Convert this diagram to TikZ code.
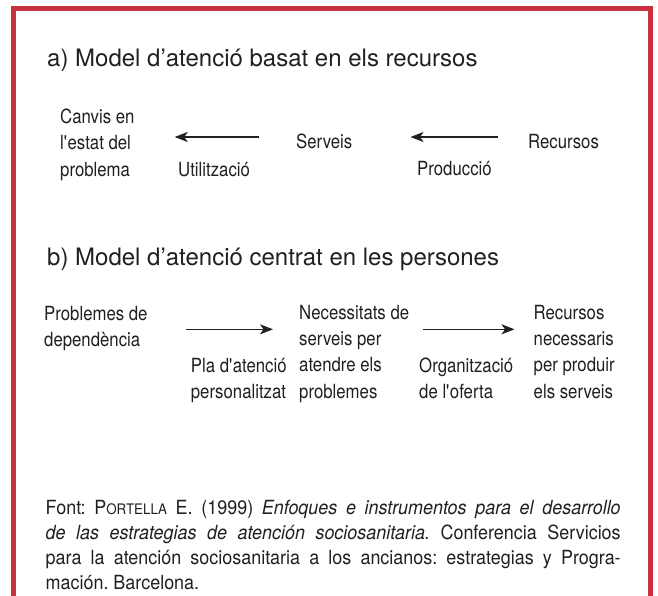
\documentclass[tikz,border=0pt]{standalone}
\usepackage{fontspec}
\setmainfont{TeX Gyre Heros}
\newfontfamily\labelfont[FakeStretch=0.86]{TeX Gyre Heros}
\newfontfamily\notefont[FakeStretch=0.92]{TeX Gyre Heros}
\usepackage{xcolor}
\usetikzlibrary{positioning, calc, arrows.meta}
\definecolor{marcvermell}{RGB}{200,50,62}
\definecolor{tinta}{RGB}{35,31,32}
\tikzset{
  titol/.style={anchor=base west, inner sep=0pt, text=tinta,
    font=\fontsize{24}{29}\selectfont},
  % ancorat a la base de l'ultima linia
  etiqueta/.style={anchor=base west, inner sep=0pt, align=left, text=tinta,
    font=\labelfont\fontsize{19.5}{26.2}\selectfont},
  nota/.style={anchor=base west, inner sep=0pt, text width=575pt, align=justify,
    text=tinta, font=\notefont\fontsize{19.5}{25}\selectfont\frenchspacing},
  % fletxes entre estats
  flux/.style={-{Stealth[length=13pt,width=10pt,inset=3.5pt]}, line width=1.3pt, draw=tinta},
  marc/.style={draw=marcvermell, line width=5pt}
}
\newcommand{\q}{\textquotesingle}

\begin{document}
\begin{tikzpicture}[x=1pt, y=-1pt]
\useasboundingbox (0,0) rectangle (658,595);
\fill[white] (0,0) rectangle (658,595);

% Marc vermell (obert per baix)
\draw[marc] (13.5,597) -- (13.5,8.5) -- (650.5,8.5) -- (650.5,597);

% a) Model basat en els recursos
\node[titol] (titola) at (47,66) {a) Model d’atenció basat en els recursos};

\node[etiqueta] (canvis) at (60,176) {Canvis en\\l\q estat del\\problema};
\node[etiqueta] (serveis) at (296,148.5) {Serveis};
\node[etiqueta] (recursos) at (528,148.5) {Recursos};
\node[etiqueta] (utilitzacio) at (178,176) {Utilització};
\node[etiqueta] (produccio) at (417,175.5) {Producció};

\coordinate (filaa) at (0,137);
\draw[flux, shorten <=37pt, shorten >=40pt] (serveis.west |- filaa) -- (canvis.east |- filaa);
\draw[flux, shorten <=30pt, shorten >=58pt] (recursos.west |- filaa) -- (serveis.east |- filaa);

% b) Model centrat en les persones
\node[titol] (titolb) at (47,265) {b) Model d’atenció centrat en les persones};

\node[etiqueta] (problemes) at (44,346.2) {Problemes de\\dependència};
\node[etiqueta] (necessitats) at (299,398.1) {Necessitats de\\serveis per\\atendre els\\problemes};
\node[etiqueta] (recursosb) at (533.5,398.1) {Recursos\\necessaris\\per produir\\els serveis};
\node[etiqueta] (pla) at (190.7,398.7) {Pla d\q atenció\\personalitzat};
\node[etiqueta] (organitzacio) at (419,398.7) {Organització\\de l\q oferta};

\coordinate (filab) at (0,329.3);
\draw[flux, shorten <=38pt, shorten >=26pt] (problemes.east |- filab) -- (necessitats.west |- filab);
\draw[flux, shorten <=14pt, shorten >=19pt] (necessitats.east |- filab) -- (recursosb.west |- filab);

% Font
\node[nota] (font) at (45.5,514.5) {Font: P{\fontsize{14.5}{25}\selectfont ORTELLA} E. (1999)
  \textit{Enfoques e instrumentos para el desarrollo\linebreak de las estrategias de atención sociosanitaria.}
  Conferencia Servicios\linebreak para la atención sociosanitaria a los ancianos: estrategias y
  Progra-\linebreak mación. Barcelona.};

\end{tikzpicture}
\end{document}
